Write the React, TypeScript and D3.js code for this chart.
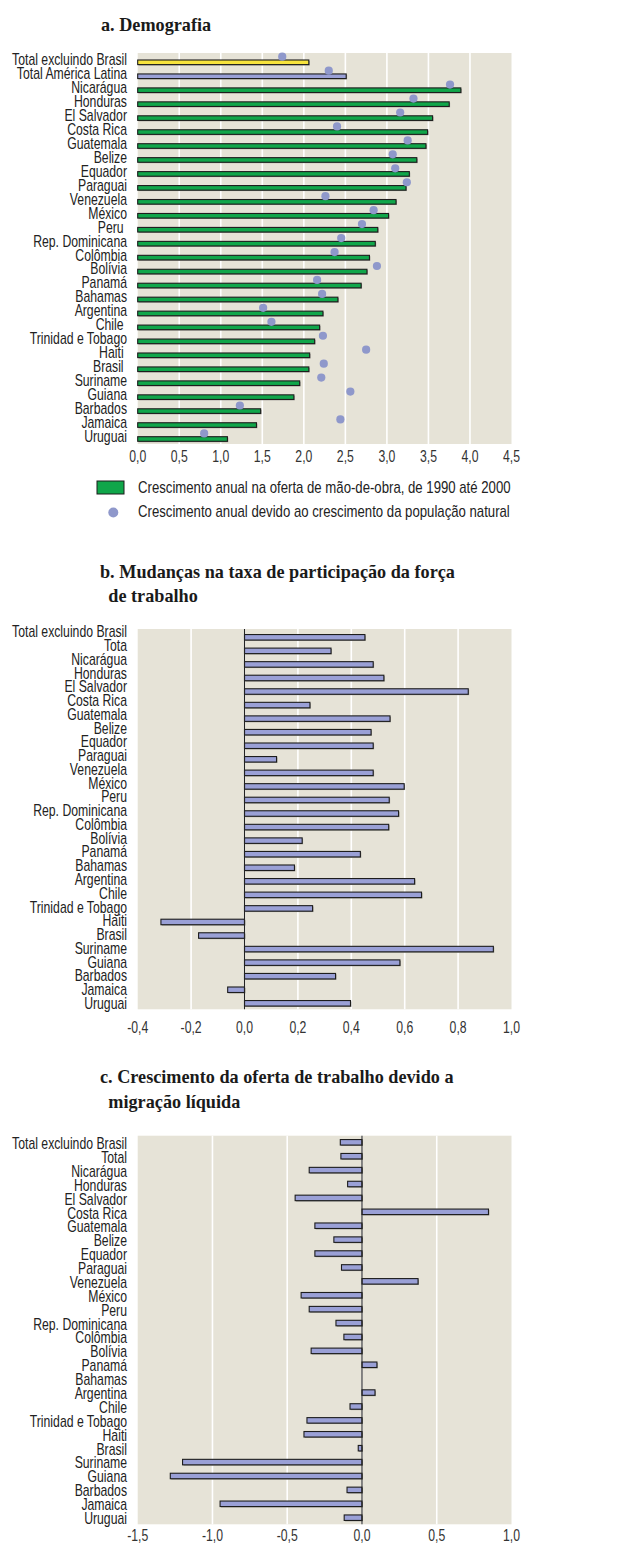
import React, { useLayoutEffect, useRef, useState } from "react";
import * as d3 from "d3";

const countriesA = ["Total excluindo Brasil","Total América Latina","Nicarágua","Honduras","El Salvador","Costa Rica","Guatemala","Belize","Equador","Paraguai","Venezuela","México","Peru ","Rep. Dominicana","Colômbia","Bolívia","Panamá","Bahamas","Argentina","Chile ","Trinidad e Tobago","Haiti ","Brasil ","Suriname","Guiana","Barbados","Jamaica","Uruguai"];
const laborGrowth = [2.06,2.51,3.89,3.75,3.55,3.49,3.47,3.36,3.27,3.23,3.11,3.02,2.89,2.86,2.79,2.76,2.69,2.41,2.23,2.19,2.13,2.07,2.06,1.95,1.88,1.48,1.43,1.08];
const naturalGrowth = [1.74,2.30,3.76,3.32,3.16,2.40,3.25,3.07,3.10,3.24,2.26,2.84,2.70,2.45,2.37,2.88,2.16,2.22,1.51,1.61,2.23,2.75,2.24,2.21,2.56,1.23,2.44,0.80];
const ticksA = [0,0.5,1,1.5,2,2.5,3,3.5,4,4.5];

const countriesB = ["Total excluindo Brasil","Tota","Nicarágua","Honduras","El Salvador","Costa Rica","Guatemala","Belize","Equador","Paraguai","Venezuela","México","Peru","Rep. Dominicana","Colômbia","Bolívia","Panamá","Bahamas","Argentina","Chile","Trinidad e Tobago","Haiti","Brasil","Suriname","Guiana","Barbados","Jamaica","Uruguai"];
const participation = [0.451,0.324,0.482,0.522,0.838,0.245,0.545,0.474,0.482,0.12,0.482,0.598,0.542,0.577,0.540,0.216,0.434,0.187,0.637,0.663,0.255,-0.313,-0.172,0.932,0.582,0.341,-0.063,0.397];
const ticksB = [-0.4,-0.2,0,0.2,0.4,0.6,0.8,1.0];

const countriesC = ["Total excluindo Brasil","Total","Nicarágua","Honduras","El Salvador","Costa Rica","Guatemala","Belize","Equador","Paraguai","Venezuela","México","Peru","Rep. Dominicana","Colômbia","Bolívia","Panamá","Bahamas","Argentina","Chile","Trinidad e Tobago","Haiti","Brasil","Suriname","Guiana","Barbados","Jamaica","Uruguai"];
const migration = [-0.145,-0.141,-0.353,-0.096,-0.447,0.846,-0.315,-0.188,-0.315,-0.137,0.375,-0.407,-0.353,-0.174,-0.121,-0.34,0.10,0,0.087,-0.08,-0.368,-0.388,-0.025,-1.20,-1.282,-0.10,-0.949,-0.119];
const ticksC = [-1.5,-1.0,-0.5,0,0.5,1.0];

const legendLabels = ["Crescimento anual na oferta de mão-de-obra, de 1990 até 2000","Crescimento anual devido ao crescimento da população natural"];
const titles = ["a. Demografia","b. Mudanças na taxa de participação da força","de trabalho","c. Crescimento da oferta de trabalho devido a","migração líquida"];

const SANS = "'Liberation Sans',Arial,sans-serif";
const SERIF = "'Liberation Serif','DejaVu Serif',serif";
const BG = "#e6e3d7";
const LAV = "#9aa0d6";
const GREEN = "#10a64a";
const YELLOW = "#f7e33c";
const DOT = "#8f98cb";
const FS = 16;
const TFS = 19.5;
const fmt = (v: number) => d3.format(".1f")(v).replace(".", ",").replace("−", "-");

type PanelProps = {
  cats: string[];
  values: number[];
  dots?: number[];
  domain: [number, number];
  ticks: number[];
  top: number;
  bottom: number;
  firstRow: number;
  lastRow: number;
  labelFirst: number;
  labelLast: number;
  barH: number;
  colors: (i: number) => string;
  zeroLine: boolean;
  tickBase: number;
  k: number;
};

function Panel(p: PanelProps) {
  const x = d3.scaleLinear().domain(p.domain).range([137.7, 511.5]);
  const idx = p.cats.map((c, i) => i + "");
  const y = d3.scalePoint<string>().domain(idx).range([p.firstRow, p.lastRow]);
  const yl = d3.scalePoint<string>().domain(idx).range([p.labelFirst, p.labelLast]);
  const x0 = x(0);
  return (
    <g>
      <rect x={x.range()[0]} y={p.top} width={x.range()[1] - x.range()[0]} height={p.bottom - p.top} fill={BG} />
      {p.ticks.slice(1, -1).map((t) => (
        <line key={t} x1={x(t)} x2={x(t)} y1={p.top} y2={p.bottom} stroke="#fff" strokeWidth={1.6} />
      ))}
      {p.values.map((v, i) => {
        const cy = y(i + "")!;
        const x1 = Math.min(x0, x(v));
        const w = Math.abs(x(v) - x0);
        if (w < 0.5) return null;
        return (
          <g key={i}>
            <rect x={x1 + 0.9} y={cy - p.barH / 2 + 0.9} width={w} height={p.barH} fill="#9a9890" />
            <rect x={x1} y={cy - p.barH / 2} width={w} height={p.barH} fill={p.colors(i)} stroke="#1d1d1d" strokeWidth={1.1} />
          </g>
        );
      })}
      {p.dots &&
        p.dots.map((v, i) => <circle key={"d" + i} cx={x(v)} cy={y(i + "")! - 5.6} r={4.1} fill={DOT} />)}
      {p.zeroLine && <line x1={x0} x2={x0} y1={p.top} y2={p.bottom} stroke="#222" strokeWidth={1.1} />}
      {p.cats.map((c, i) => (
        <text key={"l" + i} transform={`translate(127,${yl(i + "")! + 5.9}) scale(${p.k},1)`} textAnchor="end"
          fontFamily={SANS} fontSize={FS} fill="#222" style={{ whiteSpace: "pre" }}>
          {c}
        </text>
      ))}
      {p.ticks.map((t) => (
        <text key={"t" + t} transform={`translate(${x(t)},${p.tickBase}) scale(${p.k},1)`} textAnchor="middle"
          fontFamily={SANS} fontSize={FS} fill="#333">
          {fmt(t)}
        </text>
      ))}
    </g>
  );
}

export default function App() {
  const mLabel = useRef<SVGTextElement>(null);
  const mLegend = useRef<SVGTextElement>(null);
  const mTitle = useRef<SVGTextElement>(null);
  const [k, setK] = useState({ label: 0.78, legend: 0.8, title: 0.92 });
  useLayoutEffect(() => {
    const wl = mLabel.current ? mLabel.current.getComputedTextLength() : 0;
    const wg = mLegend.current ? mLegend.current.getComputedTextLength() : 0;
    const wt = mTitle.current ? mTitle.current.getComputedTextLength() : 0;
    setK({
      label: wl > 0 ? 115 / wl : 0.78,
      legend: wg > 0 ? 373 / wg : 0.8,
      title: wt > 0 ? 355 / wt : 0.92,
    });
  }, []);
  const title = (txt: string, x: number, y: number) => (
    <text transform={`translate(${x},${y}) scale(${k.title},1)`} fontFamily={SERIF} fontWeight="bold" fontSize={TFS} fill="#1a1a1a">
      {txt}
    </text>
  );
  const legendText = (txt: string, y: number) => (
    <text transform={`translate(138,${y}) scale(${k.legend},1)`} fontFamily={SANS} fontSize={FS} fill="#222">{txt}</text>
  );
  return (
    <svg width={631} height={1545} style={{ position: "absolute", left: 0, top: 0, background: "#fff" }}>
      <g visibility="hidden">
        <text ref={mLabel} fontFamily={SANS} fontSize={FS}>{countriesA[0]}</text>
        <text ref={mLegend} fontFamily={SANS} fontSize={FS}>{legendLabels[0]}</text>
        <text ref={mTitle} fontFamily={SERIF} fontWeight="bold" fontSize={TFS}>{titles[1]}</text>
      </g>
      {title(titles[0], 101, 31)}
      <Panel cats={countriesA} values={laborGrowth} dots={naturalGrowth} domain={[0, 4.5]} ticks={ticksA}
        top={53} bottom={444} firstRow={62.3} lastRow={439} labelFirst={59.5} labelLast={435.8} barH={4.6}
        colors={(i) => (i === 0 ? YELLOW : i === 1 ? LAV : GREEN)} zeroLine={false} tickBase={462} k={k.label} />
      <rect x={97} y={481} width={27} height={13} fill={GREEN} stroke="#1d1d1d" strokeWidth={1} />
      {legendText(legendLabels[0], 493.3)}
      <circle cx={113.3} cy={512.5} r={5} fill={DOT} />
      {legendText(legendLabels[1], 516.7)}

      {title(titles[1], 100, 578.3)}
      {title(titles[2], 108.3, 602.3)}
      <Panel cats={countriesB} values={participation} domain={[-0.4, 1.0]} ticks={ticksB}
        top={629} bottom={1009.3} firstRow={637.3} lastRow={1003.3} labelFirst={631.3} labelLast={1003} barH={5.5}
        colors={() => LAV} zeroLine={true} tickBase={1033.3} k={k.label} />

      {title(titles[3], 100, 1083.3)}
      {title(titles[4], 108.3, 1108.3)}
      <Panel cats={countriesC} values={migration} domain={[-1.5, 1.0]} ticks={ticksC}
        top={1135.7} bottom={1524.3} firstRow={1142.3} lastRow={1517.7} labelFirst={1143.3} labelLast={1518} barH={5.5}
        colors={() => LAV} zeroLine={true} tickBase={1541} k={k.label} />
    </svg>
  );
}
